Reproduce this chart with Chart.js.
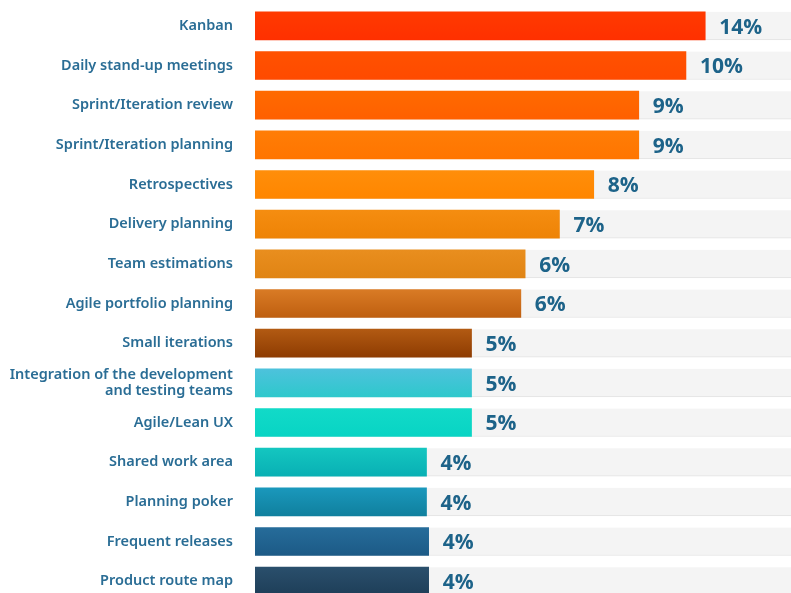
<!DOCTYPE html>
<html>
<head>
<meta charset="utf-8">
<script src="https://cdn.jsdelivr.net/npm/chart.js@4.4.0/dist/chart.umd.min.js"></script>
<style>
  html, body { margin: 0; padding: 0; background: #fff; overflow: hidden; }
  #wrap { width: 791px; height: 601px; position: relative; }
</style>
</head>
<body>
<div id="wrap"><canvas id="chart"></canvas></div>
<script>
// categories, top to bottom
const categories = [
  'Kanban', 'Daily stand-up meetings', 'Sprint/Iteration review', 'Sprint/Iteration planning',
  'Retrospectives', 'Delivery planning', 'Team estimations', 'Agile portfolio planning',
  'Small iterations', ['Integration of the development', 'and testing teams'], 'Agile/Lean UX',
  'Shared work area', 'Planning poker', 'Frequent releases', 'Product route map'
];
// drawn bar lengths (same % scale for all bars)
const barValues = [10.5, 10.05, 8.95, 8.95, 7.9, 7.1, 6.3, 6.2, 5.05, 5.05, 5.05, 4.0, 4.0, 4.05, 4.05];
// printed value labels
const pctLabels = ['14%', '10%', '9%', '9%', '8%', '7%', '6%', '6%', '5%', '5%', '5%', '4%', '4%', '4%', '4%'];
// top / bottom colours of each bar
const topColors = ['#ff3a00', '#ff5200', '#ff6a00', '#ff7d06', '#ff8e0a', '#f58d10', '#e98e1e', '#d97b25',
  '#b25a12', '#4dc2dc', '#12dac8', '#14c6c0', '#1a98bc', '#266c9a', '#2a4f6c'];
const bottomColors = ['#ff3000', '#ff4a00', '#ff6000', '#ff7500', '#ff8600', '#ee8306', '#e08414', '#bf5f10',
  '#8e3c02', '#2ec8cc', '#08d4c4', '#08b0b4', '#10809e', '#1c5a86', '#1e3e58'];
const trackMax = 12.5;

function barFill(ctx) {
  const chart = ctx.chart;
  const i = ctx.dataIndex;
  if (!chart.chartArea || !chart.scales.y) return topColors[i];
  const yc = chart.scales.y.getPixelForValue(i);
  const g = chart.ctx.createLinearGradient(0, yc - 14, 0, yc + 14);
  g.addColorStop(0, topColors[i]);
  g.addColorStop(1, bottomColors[i]);
  return g;
}

// percentage text to the right of each bar
const valueLabels = {
  id: 'valueLabels',
  afterDatasetsDraw(chart) {
    const c = chart.ctx;
    const meta = chart.getDatasetMeta(1);
    c.save();
    c.font = '700 21px "Open Sans", sans-serif';
    c.fillStyle = '#1d6389';
    c.textBaseline = 'middle';
    c.textAlign = 'left';
    meta.data.forEach((bar, i) => {
      c.fillText(pctLabels[i], bar.x + 14, bar.y + 2);
    });
    c.restore();
  }
};

new Chart(document.getElementById('chart'), {
  type: 'bar',
  data: {
    labels: categories,
    datasets: [
      {
        data: categories.map(() => trackMax),
        backgroundColor: '#f4f4f4',
        borderColor: '#e2e2e2',
        borderWidth: { bottom: 1, top: 0, left: 0, right: 0 },
        borderSkipped: false,
        barThickness: 28,
        grouped: false,
        order: 2
      },
      {
        data: barValues,
        backgroundColor: barFill,
        barThickness: 28,
        grouped: false,
        order: 1
      }
    ]
  },
  options: {
    indexAxis: 'y',
    responsive: true,
    maintainAspectRatio: false,
    animation: false,
    layout: { padding: { top: 6, right: 0, bottom: 0, left: 0 } },
    plugins: { legend: { display: false }, tooltip: { enabled: false } },
    scales: {
      x: { display: false, min: 0, max: trackMax },
      y: {
        grid: { display: false },
        border: { display: false },
        afterFit(scale) {
          scale.width = 255;
          scale.paddingTop = 0;
          scale.paddingBottom = 0;
        },
        ticks: {
          padding: 14,
          color: '#2a6d95',
          font: { family: '"Noto Sans", sans-serif', size: 14.5, weight: '600', lineHeight: 1.1 }
        }
      }
    }
  },
  plugins: [valueLabels]
});
</script>
</body>
</html>
